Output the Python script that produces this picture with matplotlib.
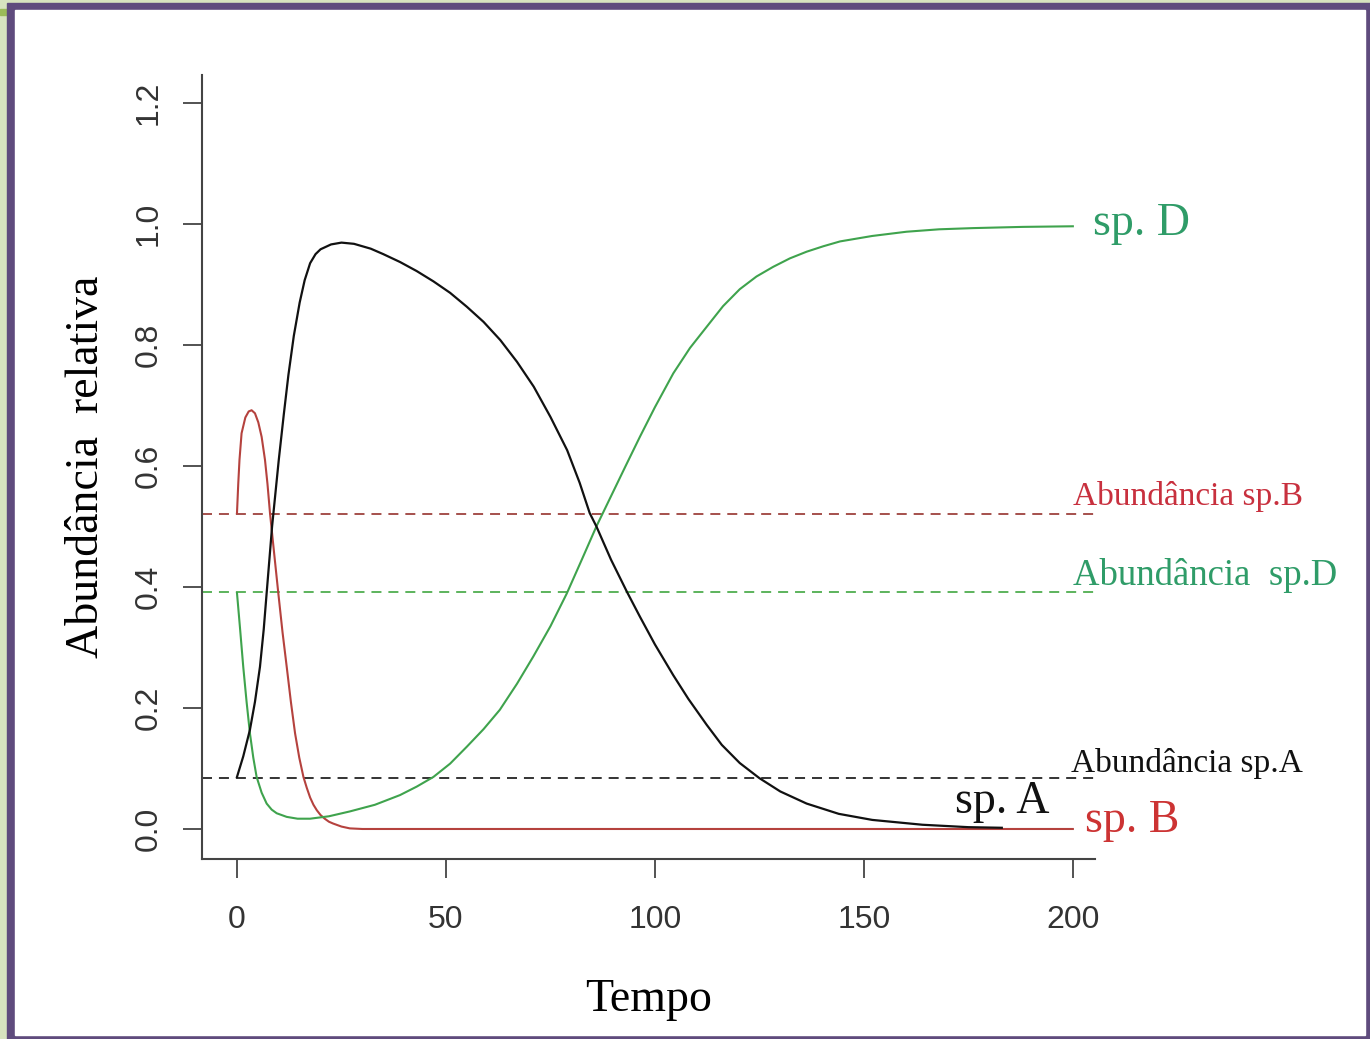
import matplotlib
matplotlib.use('Agg')
import matplotlib.pyplot as plt
from matplotlib.patches import Rectangle

# values
tempo_a = [0, 1.5, 3.1, 4.3, 5.5, 6.4, 7.1, 8.4, 10, 11.2, 12.3, 13.6, 15, 16.2, 17.5, 18.8, 20, 22.5, 25,
           28, 32, 35, 39, 43, 47, 51, 55, 59, 63, 67, 71, 75, 79, 82, 84.4, 86, 89.5, 93.3, 96.4, 100,
           104.4, 108, 112.4, 116, 120.3, 125, 130, 136.3, 144, 152, 164, 175, 183]
abund_a = [0.086, 0.12, 0.164, 0.21, 0.268, 0.33, 0.39, 0.5, 0.61, 0.685, 0.75, 0.815, 0.87, 0.907, 0.935,
           0.95, 0.958, 0.966, 0.969, 0.967, 0.959, 0.95, 0.937, 0.922, 0.905, 0.886, 0.863, 0.838, 0.808,
           0.772, 0.731, 0.681, 0.626, 0.572, 0.522, 0.50, 0.445, 0.392, 0.351, 0.305, 0.254, 0.215,
           0.172, 0.139, 0.109, 0.084, 0.062, 0.042, 0.025, 0.015, 0.007, 0.003, 0.002]

tempo_b = [0, 0.3, 0.6, 1.1, 2, 2.8, 3.5, 4.3, 5.1, 5.9, 6.7, 7.3, 7.9, 8.9, 9.9, 10.9, 11.9, 12.9, 13.9,
           14.9, 15.9, 16.7, 17.5, 18.3, 19.1, 20, 21, 22, 23, 25, 27, 30, 200]
abund_b = [0.522, 0.57, 0.61, 0.654, 0.68, 0.69, 0.692, 0.687, 0.672, 0.648, 0.61, 0.57, 0.522, 0.455,
           0.389, 0.325, 0.268, 0.21, 0.158, 0.118, 0.086, 0.068, 0.052, 0.04, 0.031, 0.023, 0.017,
           0.012, 0.009, 0.004, 0.001, 0.0, 0.0]

tempo_d = [0, 0.75, 1.5, 2.3, 3.1, 3.9, 4.7, 5.9, 7.1, 8.3, 9.5, 11.9, 14.5, 17.5, 22, 27, 33, 39, 43, 47,
           51, 55, 59, 62.9, 67, 70.9, 75, 78.9, 82.5, 86, 89.5, 93, 96.4, 100, 104.4, 108.4, 112.4,
           116.3, 120.3, 124.3, 128.3, 132.3, 136.3, 140.3, 144.3, 152, 160.2, 168, 176.2, 188, 200]
abund_d = [0.39, 0.33, 0.268, 0.21, 0.158, 0.118, 0.086, 0.06, 0.042, 0.032, 0.026, 0.02, 0.017, 0.017,
           0.021, 0.029, 0.04, 0.056, 0.07, 0.086, 0.108, 0.136, 0.165, 0.197, 0.24, 0.285, 0.335,
           0.389, 0.445, 0.50, 0.55, 0.60, 0.648, 0.697, 0.753, 0.795, 0.83, 0.864, 0.892, 0.913,
           0.929, 0.943, 0.954, 0.963, 0.971, 0.98, 0.987, 0.991, 0.993, 0.995, 0.996]

nivel_a = 0.085
nivel_b = 0.52
nivel_d = 0.392

xticks = [0, 50, 100, 150, 200]
yticks = [0.0, 0.2, 0.4, 0.6, 0.8, 1.0, 1.2]

serif = 'Liberation Serif'
sans = 'Liberation Sans'
plt.rcParams['lines.scale_dashes'] = False
plt.rcParams['lines.solid_joinstyle'] = 'round'

W, H = 1370, 1039
fig = plt.figure(figsize=(W / 100, H / 100), dpi=100)

# slide frame
fig.patches.append(Rectangle((0, 0), 1, 1, transform=fig.transFigure, color='#d7e3bf', zorder=0))
fig.patches.append(Rectangle((0, 1 - 15 / H), 7 / W, 6 / H, transform=fig.transFigure, color='#9bbb59', zorder=1))
fig.patches.append(Rectangle((7 / W, 0), 1 - 7 / W, 1 - 3 / H, transform=fig.transFigure, color='#5f4b7d', zorder=1))
fig.patches.append(Rectangle((15 / W, 4 / H), (1365 - 15) / W, (1029 - 4) / H, transform=fig.transFigure,
                             color='white', zorder=2))

ax = fig.add_axes([202 / W, (H - 859) / H, 893 / W, 784 / H])
ax.set_facecolor('none')
ax.set_zorder(3)

dash = (0, (7.2, 5))
ax.axhline(nivel_b, color='#a5504c', lw=1.4, ls=dash)
ax.axhline(nivel_d, color='#5cb35c', lw=1.4, ls=dash)
ax.axhline(nivel_a, color='#333333', lw=1.4, ls=dash)

ax.plot(tempo_b, abund_b, color='#b5423e', lw=1.5)
ax.plot(tempo_d, abund_d, color='#3fa34d', lw=1.5)
ax.plot(tempo_a, abund_a, color='#111111', lw=1.6)

ax.text(200, 0.536, 'Abundância sp.B', color='#c8303e', fontsize=24, family=serif, va='baseline')
ax.text(200, 0.403, 'Abundância  sp.D', color='#2f9c68', fontsize=26.5, family=serif, va='baseline')
ax.text(199.5, 0.094, 'Abundância sp.A', color='#111111', fontsize=24, family=serif, va='baseline')
ax.text(204.8, 0.982, 'sp. D', color='#2f9c68', fontsize=33, family=serif, va='baseline')
ax.text(171.8, 0.026, 'sp. A', color='#111111', fontsize=33, family=serif, va='baseline')
ax.text(202.9, -0.0045, 'sp. B', color='#cc3333', fontsize=33, family=serif, va='baseline')

ax.set_xlim(-8.37, 205.3)
ax.set_ylim(-0.0496, 1.246)
ax.spines['top'].set_visible(False)
ax.spines['right'].set_visible(False)
for s in ['left', 'bottom']:
    ax.spines[s].set_color('#444444')
    ax.spines[s].set_linewidth(1.5)

ax.set_xticks(xticks)
ax.set_xticklabels([str(v) for v in xticks], family=sans, fontsize=23, color='#333333')
ax.set_yticks(yticks)
ax.set_yticklabels(['%.1f' % v for v in yticks], family=sans, fontsize=23, color='#333333',
                   rotation=90, va='center')
ax.tick_params(axis='x', length=13.7, width=1.3, color='#444444', pad=19.5)
ax.tick_params(axis='y', length=13.7, width=1.3, color='#444444', pad=14)

ax.set_xlabel('Tempo', family=serif, fontsize=33, labelpad=31)
ax.set_ylabel('Abundância  relativa', family=serif, fontsize=33, labelpad=18.5)

fig.savefig('out.png', dpi=100)
